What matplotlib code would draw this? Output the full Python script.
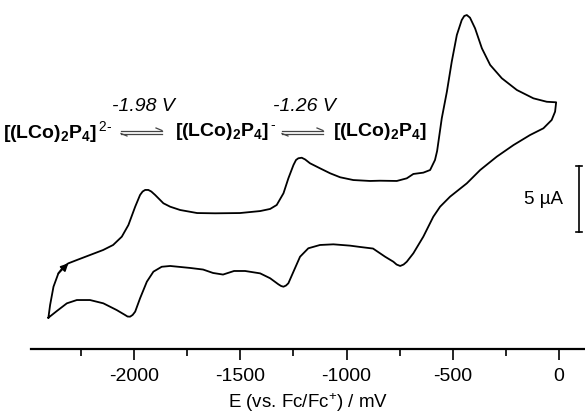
import matplotlib
matplotlib.use("Agg")
import matplotlib.pyplot as plt
from matplotlib.lines import Line2D

plt.rcParams["font.family"] = ["Liberation Sans", "DejaVu Sans"]
plt.rcParams["axes.unicode_minus"] = False
plt.rcParams["mathtext.fontset"] = "custom"
plt.rcParams["mathtext.rm"] = "Liberation Sans"
plt.rcParams["mathtext.it"] = "Liberation Sans:italic"
plt.rcParams["mathtext.bf"] = "Liberation Sans:bold"

# forward scan (-2.4 V -> 0 V), potential in mV, current in uA (arbitrary zero)
E_fwd = [-2405, -2397, -2381, -2358, -2334, -2311, -2271, -2209, -2147, -2100,
         -2059, -2028, -1996, -1973, -1961, -1949, -1934, -1920, -1902, -1863,
         -1831, -1784, -1704, -1619, -1502, -1407, -1360, -1329, -1297, -1274,
         -1250, -1238, -1227, -1211, -1195, -1172, -1125, -1077, -1030, -968,
         -889, -842, -763, -716, -685, -638, -606, -583, -573, -551,
         -527, -504, -480, -457, -445, -433, -418, -394, -362, -323,
         -268, -197, -119, -56, -12]
I_fwd = [-5.13, -4.17, -2.78, -1.77, -1.27, -1.01, -0.76, -0.38, 0.00, 0.38,
         1.01, 1.89, 3.28, 4.17, 4.43, 4.55, 4.55, 4.43, 4.17, 3.54,
         3.28, 3.03, 2.80, 2.78, 2.80, 2.95, 3.11, 3.41, 4.30, 5.43,
         6.44, 6.82, 6.95, 6.99, 6.86, 6.57, 6.19, 5.81, 5.51, 5.30,
         5.23, 5.25, 5.23, 5.43, 5.76, 5.86, 6.06, 6.82, 7.50, 9.98,
         11.99, 14.27, 16.29, 17.42, 17.73, 17.80, 17.60, 16.79, 15.28, 14.02,
         13.01, 12.12, 11.49, 11.23, 11.19]

# reverse scan (0 V -> -2.4 V)
E_rev = [-12, -17, -33, -72, -135, -213, -292, -370, -433, -512,
         -559, -591, -638, -685, -716, -731, -747, -764, -779, -818,
         -875, -936, -983, -1062, -1125, -1180, -1219, -1250, -1274, -1285,
         -1297, -1308, -1321, -1360, -1407, -1478, -1530, -1582, -1629, -1676,
         -1737, -1831, -1871, -1910, -1941, -1973, -1996, -2008, -2020, -2032,
         -2044, -2083, -2146, -2209, -2271, -2318, -2365, -2405]
I_rev = [11.19, 10.48, 9.85, 9.22, 8.71, 7.95, 7.07, 6.06, 5.05, 4.04,
         3.28, 2.52, 1.01, -0.25, -0.89, -1.10, -1.21, -1.10, -0.89, -0.51,
         0.11, 0.23, 0.33, 0.43, 0.38, 0.13, -0.51, -1.64, -2.52, -2.69,
         -2.78, -2.73, -2.60, -2.14, -1.77, -1.59, -1.59, -1.86, -1.74, -1.48,
         -1.36, -1.21, -1.27, -1.64, -2.40, -3.66, -4.67, -4.92, -5.05, -5.04,
         -4.92, -4.55, -4.04, -3.79, -3.79, -4.04, -4.62, -5.13]

xticks = [-2000, -1500, -1000, -500, 0]
scale_uA = 5

fig = plt.figure(figsize=(5.85, 4.16), dpi=100)
ax = fig.add_axes([31 / 585, 67 / 416, 554 / 585, 349 / 416])

ax.plot(E_fwd + E_rev[1:], I_fwd + I_rev[1:], color="black", lw=1.3,
        solid_joinstyle="round")
ax.annotate("", xy=(E_fwd[5], I_fwd[5]), xytext=(E_fwd[3], I_fwd[3]),
            arrowprops=dict(arrowstyle="-|>", color="black", lw=1.2,
                            mutation_scale=11, shrinkA=0, shrinkB=0))

# 5 uA scale bar
bar_x, bar_y0 = 96, 1.36
ax.plot([bar_x, bar_x], [bar_y0, bar_y0 + scale_uA], color="black", lw=1.2)
for yy in (bar_y0, bar_y0 + scale_uA):
    ax.plot([bar_x - 14, bar_x + 14], [yy, yy], color="black", lw=1.2)
ax.text(-73, bar_y0 + scale_uA / 2, "5 µA", fontsize=13.5, ha="center", va="center")

ax.set_xlim(-2487, 124)
ax.set_ylim(-7.5, 18.94)
ax.set_xticks(xticks)
ax.set_xticks([-2250, -1750, -1250, -750, -250], minor=True)
ax.set_yticks([])
for s in ("left", "right", "top"):
    ax.spines[s].set_visible(False)
ax.spines["bottom"].set_linewidth(1.6)
ax.tick_params(axis="x", which="major", length=8, width=1.2, labelsize=14, pad=6)
ax.tick_params(axis="x", which="minor", length=5, width=1.2)
ax.set_xlabel("E (vs. Fc/Fc$^{+}$) / mV", fontsize=13.5, labelpad=4)

# reaction scheme
fig.text(143 / 585, 0.743, "-1.98 V", fontsize=14, style="italic", ha="center", va="center")
fig.text(304 / 585, 0.743, "-1.26 V", fontsize=14, style="italic", ha="center", va="center")
fig.text(3 / 585, 0.683, r"$\mathbf{[(LCo)}_{\mathbf{2}}\mathbf{P}_{\mathbf{4}}\mathbf{]}^{\,2\text{-}}$",
         fontsize=14, ha="left", va="center")
fig.text(175 / 585, 0.683, r"$\mathbf{[(LCo)}_{\mathbf{2}}\mathbf{P}_{\mathbf{4}}\mathbf{]}^{\,\text{-}}$",
         fontsize=14, ha="left", va="center")
fig.text(333 / 585, 0.683, r"$\mathbf{[(LCo)}_{\mathbf{2}}\mathbf{P}_{\mathbf{4}}\mathbf{]}$",
         fontsize=14, ha="left", va="center")


def harpoon(x0, x1, y):
    # two half-headed arrows, in figure pixels
    W, H = 585.0, 416.0
    yt, yb = y - 1.5, y + 1.5
    segs = [([x0, x1], [yt, yt]), ([x1 - 6, x1], [yt - 2.5, yt]),
            ([x0, x1], [yb, yb]), ([x0, x0 + 6], [yb, yb + 2.5])]
    for xs, ys in segs:
        fig.add_artist(Line2D([v / W for v in xs], [1 - v / H for v in ys],
                              transform=fig.transFigure, color="#444444", lw=0.9))


harpoon(121, 162, 132)
harpoon(282, 323, 132)

fig.savefig("out.png", dpi=100)
